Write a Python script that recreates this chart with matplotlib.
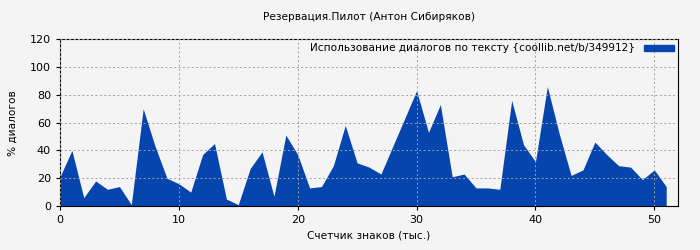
import numpy as np
import matplotlib.pyplot as plt
from matplotlib.patches import Patch

# данные (тыс. знаков -> % диалогов)
x_k = np.arange(0, 52)
pct = [21, 40, 6, 18, 12, 14, 1, 70, 43, 20,
       16, 10, 37, 45, 5, 1, 27, 39, 7, 51,
       37, 13, 14, 29, 58, 31, 28, 23, 43, 63,
       83, 53, 73, 21, 23, 13, 13, 12, 76, 44,
       32, 86, 52, 22, 26, 46, 37, 29, 28, 19,
       26, 14]

title = 'Резервация.Пилот (Антон Сибиряков)'
legend_label = 'Использование диалогов по тексту {coollib.net/b/349912}'
blue = '#0645ad'
bg = '#f4f4f4'
fs = 7.6

fig = plt.figure(figsize=(7, 2.5), dpi=100, facecolor=bg)
ax = fig.add_axes([0.0857, 0.176, 0.883, 0.667], facecolor=bg)

ax.fill_between(x_k, 0, pct, color=blue, linewidth=0)

ax.set_xlim(0, 52)
ax.set_ylim(0, 120)
ax.set_xticks(range(0, 51, 10))
ax.set_yticks(range(0, 121, 20))
ax.grid(True, color='#a0a0a0', linestyle=(0, (2, 2.5)), linewidth=0.7)
ax.set_axisbelow(False)
ax.tick_params(labelsize=8, length=3)

ax.set_title(title, fontsize=fs, pad=14)
ax.set_xlabel('Счетчик знаков (тыс.)', fontsize=fs)
ax.set_ylabel('% диалогов', fontsize=fs)
ax.yaxis.set_label_coords(-0.068, 0.5)

ax.legend(handles=[Patch(color=blue, label=legend_label)], loc='upper right',
          frameon=False, fontsize=fs, markerfirst=False, handlelength=2.8,
          handleheight=0.5, borderaxespad=0.0, handletextpad=0.9)

fig.savefig('out.png', dpi=100, facecolor=bg)
